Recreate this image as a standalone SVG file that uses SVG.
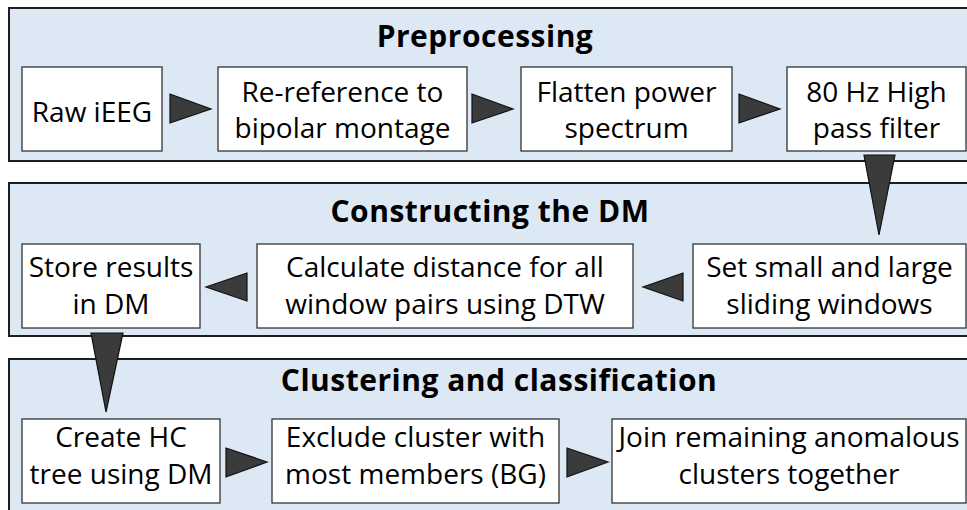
<svg xmlns="http://www.w3.org/2000/svg" width="967" height="510" viewBox="0 0 967 510">
<defs>
<style>
.panel{fill:#dde8f5;stroke:#1e1e1e;stroke-width:2}
.box{fill:#ffffff;stroke:#333333;stroke-width:1.3}
.title{font-family:"Open Sans","Noto Sans",sans-serif;font-weight:bold;font-size:30px;fill:#000;text-anchor:middle;letter-spacing:0.5px}
.txt{font-family:"Open Sans","Noto Sans",sans-serif;font-size:28px;fill:#000;text-anchor:middle}
.arr{fill:#3b3b3b;stroke:#111;stroke-width:1.2;stroke-linejoin:miter}
</style>
</defs>
<rect width="967" height="510" fill="#ffffff"/>
<g id="panel-preprocessing">
<rect class="panel" x="9" y="8" width="970" height="153"/>
<text class="title" x="485" y="47">Preprocessing</text>
</g>
<g id="panel-dm">
<rect class="panel" x="9" y="183" width="970" height="153"/>
<text class="title" x="490" y="222">Constructing the DM</text>
</g>
<g id="panel-clustering">
<rect class="panel" x="9" y="359" width="970" height="170"/>
<text class="title" x="499" y="391">Clustering and classification</text>
</g>
<g id="raw-ieeg">
<rect class="box" x="22" y="67" width="140" height="84"/>
<text class="txt" x="92" y="122">Raw iEEG</text>
</g>
<g id="re-reference">
<rect class="box" x="218" y="67" width="249" height="84"/>
<text class="txt" x="342.5" y="102">Re-reference to</text>
<text class="txt" x="342.5" y="138">bipolar montage</text>
</g>
<g id="flatten">
<rect class="box" x="521" y="67" width="211" height="84"/>
<text class="txt" x="626.5" y="102">Flatten power</text>
<text class="txt" x="626.5" y="138">spectrum</text>
</g>
<g id="highpass">
<rect class="box" x="787" y="67" width="179" height="84"/>
<text class="txt" x="876.5" y="102">80 Hz High</text>
<text class="txt" x="876.5" y="138">pass filter</text>
</g>
<g id="store">
<rect class="box" x="22" y="244" width="178" height="84"/>
<text class="txt" x="111" y="277">Store results</text>
<text class="txt" x="111" y="314">in DM</text>
</g>
<g id="calculate">
<rect class="box" x="257" y="244" width="376" height="84"/>
<text class="txt" x="445" y="277">Calculate distance for all</text>
<text class="txt" x="445" y="314">window pairs using DTW</text>
</g>
<g id="set-windows">
<rect class="box" x="693" y="244" width="273" height="84"/>
<text class="txt" x="829.5" y="277">Set small and large</text>
<text class="txt" x="829.5" y="314">sliding windows</text>
</g>
<g id="create-hc">
<rect class="box" x="22" y="419" width="198" height="84"/>
<text class="txt" x="121" y="447">Create HC</text>
<text class="txt" x="121" y="484">tree using DM</text>
</g>
<g id="exclude">
<rect class="box" x="272" y="419" width="287" height="84"/>
<text class="txt" x="415.5" y="447">Exclude cluster with</text>
<text class="txt" x="415.5" y="484">most members (BG)</text>
</g>
<g id="join">
<rect class="box" x="612" y="419" width="354" height="84"/>
<text class="txt" x="789" y="447">Join remaining anomalous</text>
<text class="txt" x="789" y="484">clusters together</text>
</g>
<g id="connectors">
<polygon class="arr" points="170,94 170,123 211,109"/>
<polygon class="arr" points="472,94 472,123 513,109"/>
<polygon class="arr" points="739,94 739,123 780,109"/>
<polygon class="arr" points="864,155 895,155 879,235"/>
<polygon class="arr" points="683,273 683,301 643,287"/>
<polygon class="arr" points="247,273 247,301 206,287"/>
<polygon class="arr" points="91,333 123,333 106,412"/>
<polygon class="arr" points="226,448 226,477 267,462"/>
<polygon class="arr" points="567,448 567,477 608,462"/>
</g>
</svg>
